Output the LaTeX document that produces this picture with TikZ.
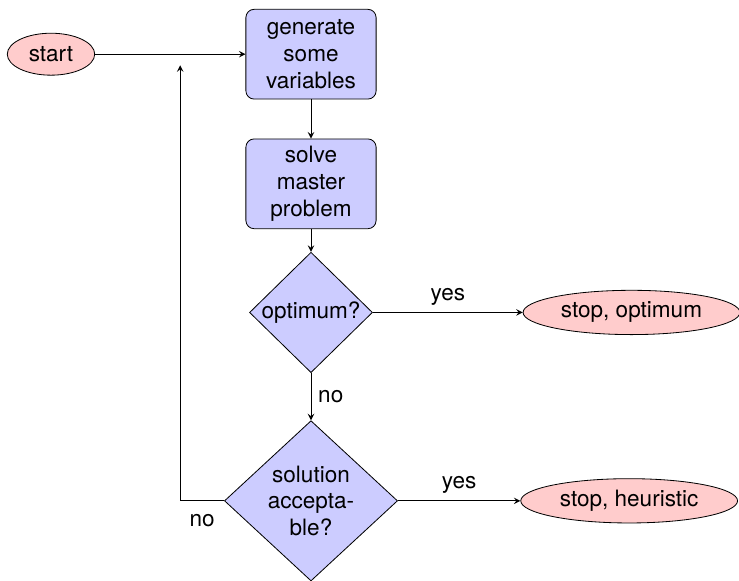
\documentclass[tikz,border=0pt]{standalone}
\usepackage{fontspec}
\setmainfont{TeX Gyre Heros}
\usepackage{xcolor}
\usepackage{tikz}
\usetikzlibrary{shapes.geometric, arrows, positioning, calc}

\begin{document}
\begin{tikzpicture}[
   font = \fontsize{11pt}{13pt}\selectfont,
   node distance = 0.6cm,
   box/.style = {draw, rectangle, rounded corners, fill=blue!20, minimum width=2.2cm, minimum height=1.54cm, text width=2cm, align=center},
   terminal/.style = {draw, ellipse, fill=red!20, minimum height=0.76cm, inner sep=1pt},
   decision/.style = {draw, diamond, fill=blue!20, inner sep=0pt, align=center},
   line/.style = {draw, -stealth}
   ]
  \useasboundingbox (0,0) rectangle (12.68,-9.953);

  % Start node
  \node[terminal, minimum width=1.5cm, minimum height=0.72cm] (start) at (0.875,-0.93) {start};

  % Process boxes
  \node[box, right=2.58cm of start] (generate)
   {generate\\ some\\ variables};
  \node[box, below=0.67cm of generate] (solve)
   {solve\\ master\\ problem};

  % Decision diamonds
  \node[decision, below=0.39cm of solve, minimum width=2.11cm, minimum height=2.06cm] (optimum)
   {optimum?};
  \node[decision, below=0.81cm of optimum, minimum width=2.97cm, minimum height=2.75cm] (acceptable)
   {solution\\ accepta-\\ ble?};

  % Stop nodes
  \node[terminal, right=2.57cm of optimum, minimum width=3.72cm] (stopoptimum)
   {stop, optimum};
  \node[terminal, right=2.1cm of acceptable, minimum width=3.72cm] (stopheuristic)
   {stop, heuristic};

  % Loop back point
  \coordinate (back) at ($(start.east)!0.566!(generate.west)$);

  % Arrows
  \draw[line] (start) -- (generate);
  \draw[line] (generate) -- (solve);
  \draw[line] (solve) -- (optimum);
  \draw[line] (optimum) -- node[above] {yes} (stopoptimum);
  \draw[line] (optimum) -- node[right] {no} (acceptable);
  \draw[line] (acceptable) -- node[above] {yes} (stopheuristic);
  \draw[line] (acceptable.west) -| node[below=3pt, pos=0.25] {no} ([yshift=-0.19cm]back);
\end{tikzpicture}
\end{document}
